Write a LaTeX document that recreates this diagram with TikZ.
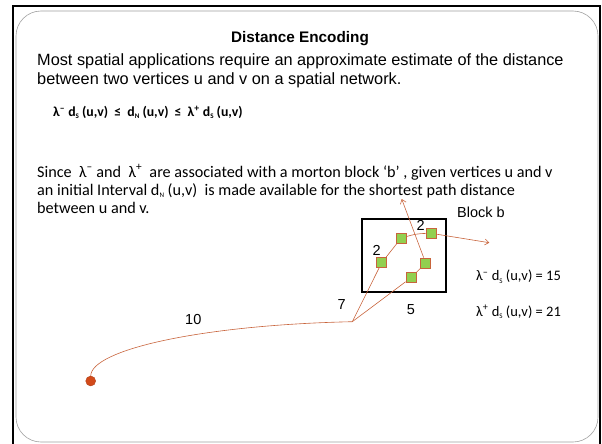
\documentclass[tikz,border=0pt]{standalone}
\usepackage{fontspec}
\setmainfont{Liberation Sans}
\newfontfamily\calfont{Carlito}
\usetikzlibrary{arrows.meta}
\definecolor{edgec}{HTML}{C8643C}
\definecolor{gfill}{HTML}{92D050}
\definecolor{dotred}{HTML}{D24A1A}
\newcommand\mysub[1]{\raisebox{-0.3ex}{\scriptsize #1}}
\begin{document}
\begin{tikzpicture}[x=1pt,y=-1pt,
  sq/.style={rectangle, minimum size=10pt, inner sep=0pt, fill=gfill, draw=edgec, line width=0.8pt},
  conn/.style={draw=edgec, line width=0.6pt},
  arr/.style={conn, -{Straight Barb[length=4pt,width=6pt]}},
  lbl/.style={inner sep=0pt, font=\fontsize{14.5}{17}\selectfont},
  cal/.style={inner sep=0pt, font=\calfont\fontsize{14.5}{17}\selectfont}]
\useasboundingbox (0,0) rectangle (602,444);
% frame
\draw[line width=2.2pt] (13,450) -- (13,6) -- (600,6) -- (600,450);
\draw[gray!75, line width=0.6pt, rounded corners=25pt] (16,11) rectangle (598,442);
% texts
\node[font=\bfseries\fontsize{15.3}{18}\selectfont, inner sep=0pt] (title) at (300,39) {Distance Encoding};
\node[anchor=west, align=left, inner sep=0pt, font=\fontsize{16.3}{19.5}\selectfont] (intro) at (37,71)
  {Most spatial applications require an approximate estimate of the distance\\between two vertices u and v on a spatial network.};
\node[anchor=west, inner sep=0pt, font=\calfont\bfseries\fontsize{13.8}{16}\selectfont] (formula) at (53,112)
  {λ\textsuperscript{–} d\mysub{S} (u,v)\hspace{3pt} ≤\hspace{3pt} d\mysub{N} (u,v)\hspace{3pt} ≤\hspace{3pt} λ\textsuperscript{+} d\mysub{S} (u,v)};
\node[anchor=west, align=left, inner sep=0pt, font=\calfont\fontsize{16.2}{18}\selectfont] (para) at (37,189)
  {Since\ \ λ\textsuperscript{–} and\ \ λ\textsuperscript{+}\ \ are associated with a morton block ‘b’ , given vertices u and v\\
   an initial Interval d\mysub{N} (u,v)\ \ is made available for the shortest path distance\\
   between u and v.};
% block
\node[draw, line width=1.4pt, minimum width=84pt, minimum height=73pt, inner sep=0pt] (block) at (404,255.5) {};
\node[lbl] (blabel) at (481,212) {Block b};
% squares
\node[sq] (s1) at (381.7,262.7) {};
\node[sq] (s2) at (401,238.3) {};
\node[sq] (s3) at (431,233.3) {};
\node[sq] (s4) at (425.7,263) {};
\node[sq] (s5) at (411,277.7) {};
\coordinate (hub) at (352.3,321.7);
\coordinate (tipR) at (489.3,242.7);
\coordinate (tipU) at (401.7,199);
\node[circle, fill=dotred, draw=dotred!80!black, line width=0.3pt, minimum size=10pt, inner sep=0pt] (dot) at (90.7,381) {};
% connectors
\draw[conn] (hub) -- (s1);
\draw[conn] (s1) -- (s2);
\draw[conn] (hub) -- (s5);
\draw[conn] (s5) -- (s4);
\draw[conn] (s2) to[bend left=8] (s3);
\draw[arr] (s3) -- (tipR);
\draw[arr] (s4) -- (tipU);
\draw[conn] (dot) .. controls (91,350) and (200,325) .. (hub);
% labels
\node[lbl] (l2a) at (376.7,250) {2};
\node[lbl] (l2b) at (420.7,225.7) {2};
\node[lbl] (l7) at (341.7,305) {7};
\node[lbl] (l5) at (411,310) {5};
\node[lbl] (l10) at (193.3,320) {10};
\node[cal, anchor=west] (lam1) at (476,276.7) {λ\textsuperscript{–} d\mysub{S} (u,v) = 15};
\node[cal, anchor=west] (lam2) at (476,311.7) {λ\textsuperscript{+} d\mysub{S} (u,v) = 21};
\end{tikzpicture}
\end{document}
